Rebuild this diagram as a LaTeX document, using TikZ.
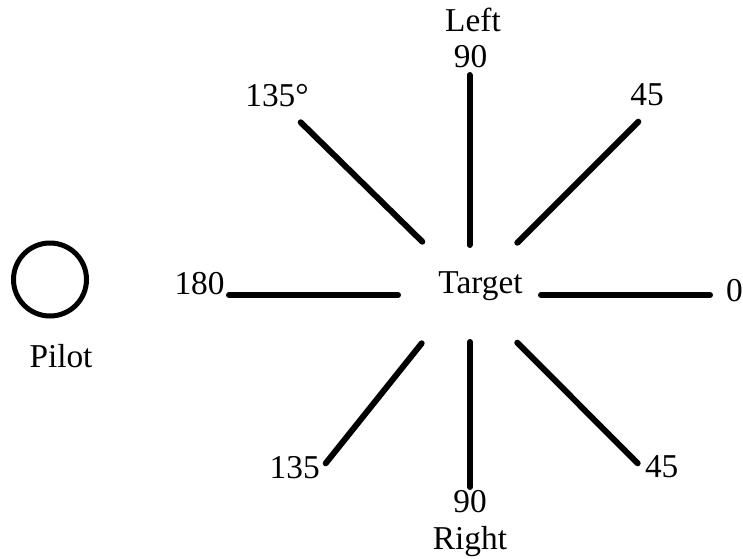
\documentclass[tikz,border=0pt]{standalone}
\usepackage{fontspec}
\setmainfont{Liberation Serif}
\begin{document}
\begin{tikzpicture}[x=0.75pt,y=-0.75pt,
  lbl/.style={anchor=base,inner sep=0pt,font=\fontsize{25}{30}\selectfont},
  spoke/.style={line width=4.5pt,line cap=round},
  pilotring/.style={circle,draw,line width=3.75pt,minimum size=73pt*0.75,inner sep=0pt}]
\useasboundingbox (0,0) rectangle (743,558);
% labels
\node[lbl] (left) at (473,31) {Left};
\node[lbl] (n90t) at (470.5,67) {90};
\node[lbl] (n135t) at (277,106) {135°};
\node[lbl] (n45t) at (647,105) {45};
\node[lbl] (n0) at (734.5,301.5) {0};
\node[lbl] (n180) at (199.5,294) {180};
\node[lbl] (target) at (480.5,293.3) {Target};
\node[lbl] (n135b) at (294.7,478) {135};
\node[lbl] (n45b) at (661.7,477) {45};
\node[lbl] (n90b) at (470,512) {90};
\node[lbl] (right) at (470,549) {Right};
\node[lbl] (pilotlbl) at (61,367) {Pilot};
\node[pilotring] (pilot) at (50,279.5) {};
% spoke ends
\coordinate (uI) at (469.5,245);  \coordinate (uO) at (469.5,75);
\coordinate (dI) at (470,342);    \coordinate (dO) at (470,487);
\coordinate (lI) at (398,295);    \coordinate (lO) at (229,295);
\coordinate (rI) at (541,295);    \coordinate (rO) at (710,295);
\coordinate (ulI) at (422.3,241.7); \coordinate (ulO) at (300.7,122.3);
\coordinate (urI) at (517.3,242.7); \coordinate (urO) at (638.3,121.7);
\coordinate (llI) at (421.7,343.3); \coordinate (llO) at (325.7,463.3);
\coordinate (lrI) at (517.3,342.7); \coordinate (lrO) at (637.7,463.3);
\draw[spoke] (uI) -- (uO);
\draw[spoke] (dI) -- (dO);
\draw[spoke] (lI) -- (lO);
\draw[spoke] (rI) -- (rO);
\draw[spoke] (ulI) -- (ulO);
\draw[spoke] (urI) -- (urO);
\draw[spoke] (llI) -- (llO);
\draw[spoke] (lrI) -- (lrO);
\end{tikzpicture}
\end{document}
